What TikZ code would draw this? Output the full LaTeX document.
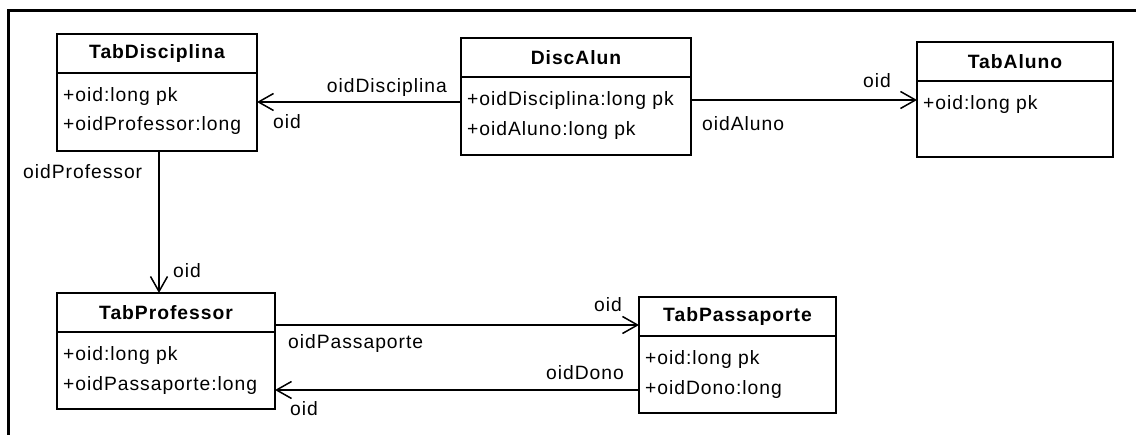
\documentclass[tikz,border=0pt]{standalone}
\usepackage{fontspec}
\setmainfont{Liberation Sans}[LetterSpace=5]
\usetikzlibrary{positioning,arrows.meta}

\begin{document}
\begin{tikzpicture}[
  x=1pt, y=-1pt,
  font=\fontsize{19.3pt}{23pt}\selectfont,
  hdr/.style={
    rectangle, draw=black, line width=1.5pt, outer sep=0pt,
    minimum height=39pt, inner sep=0pt, anchor=north west,
    font=\fontsize{19.3pt}{23pt}\selectfont\bfseries
  },
  body/.style={
    rectangle, draw=black, line width=1.5pt, outer sep=0pt,
    minimum height=78pt, inner sep=0pt
  },
  att/.style={anchor=mid west, inner sep=0pt},
  lbl/.style={inner sep=0pt},
  fk/.style={-{Straight Barb[length=15pt,width=17pt]}, line width=1.5pt}
]
\useasboundingbox (0,0) rectangle (1136,435);

% --- frame ---
\draw[line width=3pt] (8.5,435) -- (8.5,10.5) -- (1136,10.5);

% --- tables ---
\node[hdr, minimum width=200pt] (disc) at (57,34) {TabDisciplina};
\node[body, minimum width=200pt, below=0pt of disc] (discB) {};
\node[att] (discA1) at ([xshift=6pt,yshift=-26pt]discB.north west) {+oid:long pk};
\node[att] (discA2) at ([xshift=6pt,yshift=-55pt]discB.north west) {+oidProfessor:long};

\node[hdr, minimum width=230pt] (dalun) at (461,38) {DiscAlun};
\node[body, minimum width=230pt, below=0pt of dalun] (dalunB) {};
\node[att] (dalunA1) at ([xshift=6pt,yshift=-26pt]dalunB.north west) {+oidDisciplina:long pk};
\node[att] (dalunA2) at ([xshift=6pt,yshift=-56pt]dalunB.north west) {+oidAluno:long pk};

\node[hdr, minimum width=196pt] (aluno) at (917,42) {TabAluno};
\node[body, minimum width=196pt, minimum height=76pt, below=0pt of aluno] (alunoB) {};
\node[att] (alunoA1) at ([xshift=6pt,yshift=-26pt]alunoB.north west) {+oid:long pk};

\node[hdr, minimum width=218pt] (prof) at (57,293) {TabProfessor};
\node[body, minimum width=218pt, minimum height=77pt, below=0pt of prof] (profB) {};
\node[att] (profA1) at ([xshift=6pt,yshift=-26pt]profB.north west) {+oid:long pk};
\node[att] (profA2) at ([xshift=6pt,yshift=-56pt]profB.north west) {+oidPassaporte:long};

\node[hdr, minimum width=197pt] (pass) at (639,297) {TabPassaporte};
\node[body, minimum width=197pt, minimum height=77pt, below=0pt of pass] (passB) {};
\node[att] (passA1) at ([xshift=6pt,yshift=-26pt]passB.north west) {+oid:long pk};
\node[att] (passA2) at ([xshift=6pt,yshift=-56pt]passB.north west) {+oidDono:long};

% --- foreign keys ---
\coordinate (fkDisc) at ([yshift=-25pt]dalunB.north west);
\draw[fk] (fkDisc) -- (fkDisc -| discB.east);
\coordinate (fkAluno) at ([yshift=-23pt]dalunB.north east);
\draw[fk] (fkAluno) -- (fkAluno -| alunoB.west);
\coordinate (fkProf) at ([xshift=2pt]discB.south);
\draw[fk] (fkProf) -- (fkProf |- prof.north);
\coordinate (fkPass) at ([yshift=7pt]prof.south east);
\draw[fk] (fkPass) -- (fkPass -| pass.west);
\coordinate (fkDono) at ([yshift=-54pt]passB.north west);
\draw[fk] (fkDono) -- (fkDono -| profB.east);

% --- role names ---
\node[lbl, anchor=base east] (lDisc)  at (447,93)  {oidDisciplina};
\node[lbl, anchor=base west] (lDiscO) at (273,129) {oid};
\node[lbl, anchor=base west] (lAluno) at (702,131) {oidAluno};
\node[lbl, anchor=base west] (lAlunoO) at (863,88) {oid};
\node[lbl, anchor=base west] (lProf)  at (23,179)  {oidProfessor};
\node[lbl, anchor=base west] (lProfO) at (173,278) {oid};
\node[lbl, anchor=base west] (lPass)  at (288,349) {oidPassaporte};
\node[lbl, anchor=base west] (lPassO) at (594,312) {oid};
\node[lbl, anchor=base east] (lDono)  at (624,380) {oidDono};
\node[lbl, anchor=base west] (lDonoO) at (290,416) {oid};

\end{tikzpicture}
\end{document}
